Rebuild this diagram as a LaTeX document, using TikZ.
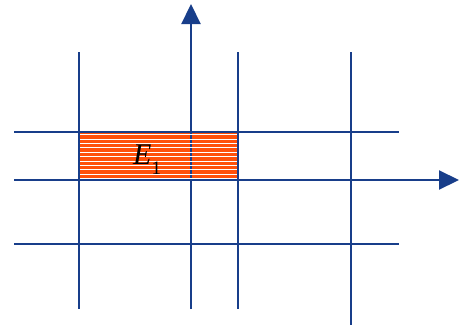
\documentclass[tikz,border=0pt]{standalone}
\usetikzlibrary{arrows.meta}
\usepackage{fontspec}
\newfontfamily\tnrfont{Liberation Serif}
\definecolor{gridblue}{RGB}{24,62,138}
\definecolor{regorange}{RGB}{255,80,10}
\begin{document}
\begin{tikzpicture}[x=1pt,y=-1pt,
  gridline/.style={draw=gridblue,line width=2.2pt},
  axisline/.style={gridline,-{Triangle[length=20pt,width=19pt]}},
  stripe/.style={draw=white,line width=1pt}]
\useasboundingbox (0,0) rectangle (459,325);
% region fill
\fill[regorange] (79,132) rectangle (238,180);
% axes
\coordinate (ya0) at (191,309);
\coordinate (ya1) at (191,4);
\coordinate (xa0) at (14,180);
\coordinate (xa1) at (459,180);
\draw[axisline] (ya0) -- (ya1);
% stripes
\foreach \y in {134.5,139,143.4,147.8,152.2,156.6,161,165.4,169.8,174.2,178.2}
  \draw[stripe] (80,\y) -- (237,\y);
% grid lines
\draw[gridline] (79,52) -- (79,309);
\draw[gridline] (238,52) -- (238,309);
\draw[gridline] (351,52) -- (351,325);
\draw[gridline] (14,132) -- (399,132);
\draw[gridline] (14,244) -- (399,244);
\draw[axisline] (xa0) -- (xa1);
\node[inner sep=0pt,anchor=base west] (lbl) at (133,164)
  {\tnrfont\fontsize{30}{32}\selectfont\itshape E\kern0pt\raisebox{-10pt}{\upshape\fontsize{19}{20}\selectfont 1}};
\end{tikzpicture}
\end{document}
